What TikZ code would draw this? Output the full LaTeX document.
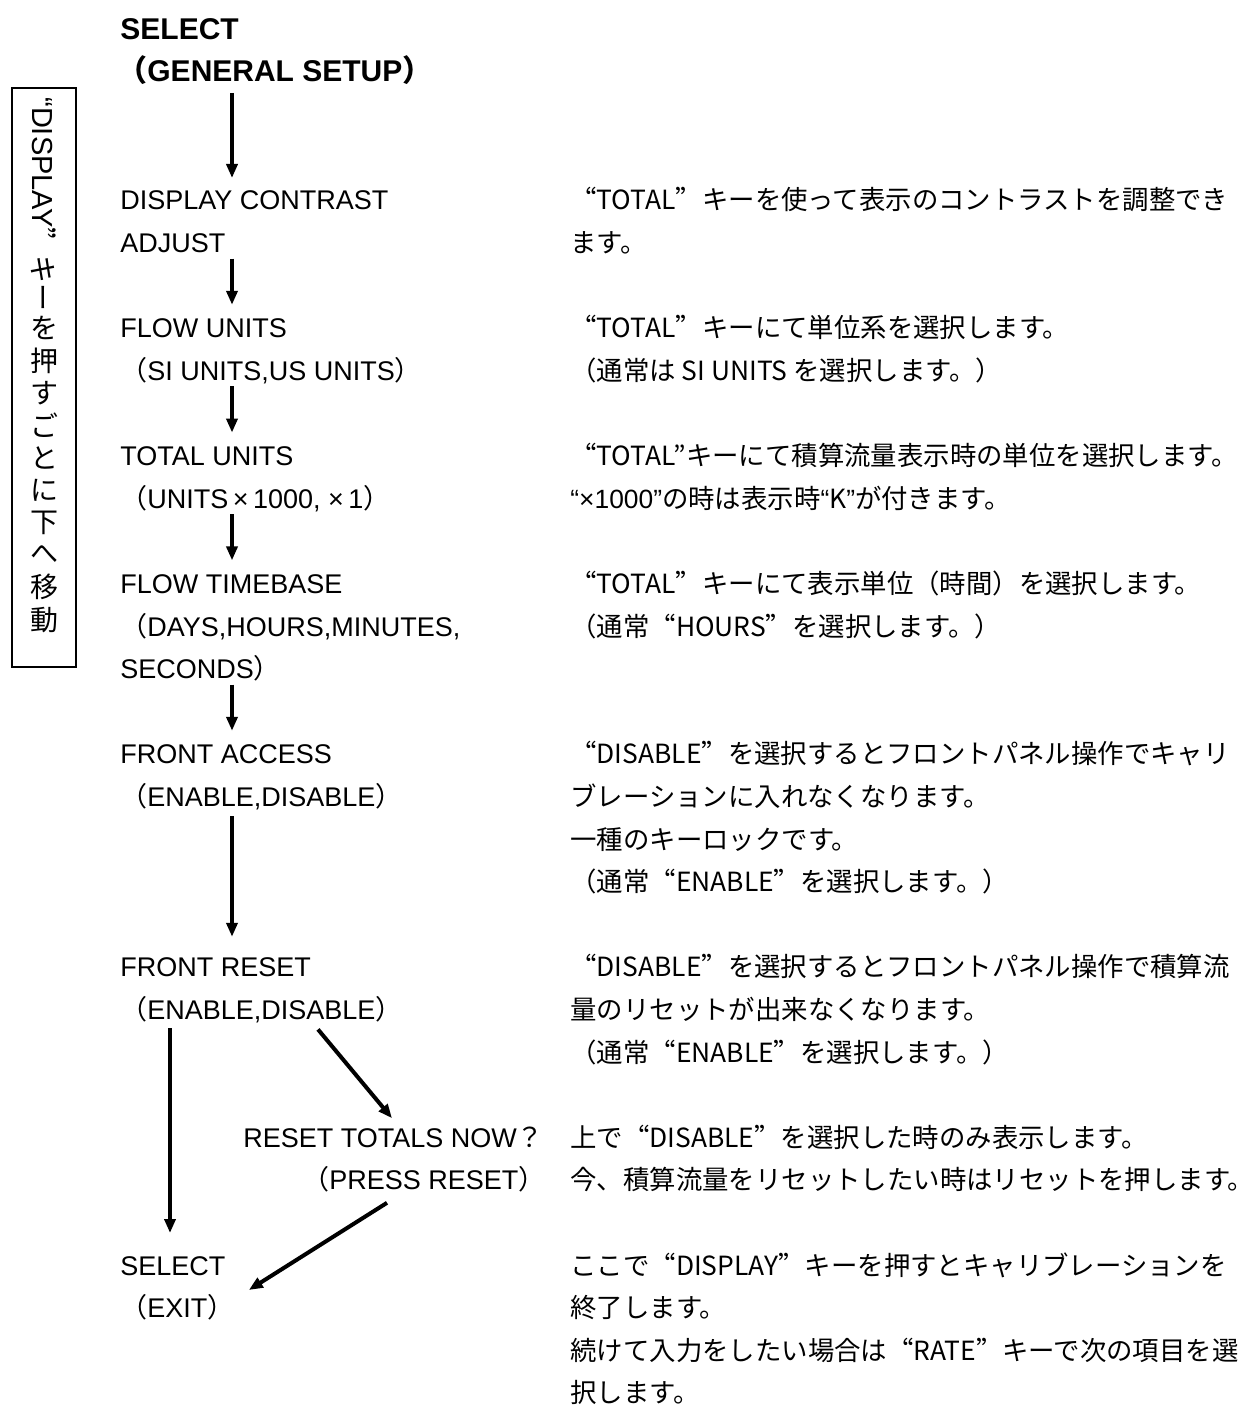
\documentclass[tikz,border=0pt]{standalone}
\usepackage{fontspec}
\setmainfont{Liberation Sans}
\newfontfamily\jp{Noto Sans CJK JP}
\newfontfamily\jpq[RawFeature=+fwid]{Noto Sans CJK JP}
\newcommand{\jq}[1]{{\jpq “}#1{\jpq ”}}
\usetikzlibrary{arrows.meta, positioning, calc}
\tikzset{
  item/.style={anchor=base west, inner sep=0pt, text height=10pt, text depth=3pt,
               font=\fontsize{13.5}{16}\selectfont},
  headline/.style={item, font=\fontsize{15}{18}\selectfont\bfseries},
  note/.style={anchor=base west, inner sep=0pt, font=\jp\fontsize{13.2}{16}\selectfont},
  keytxt/.style={inner sep=0pt, font=\jp\fontsize{14}{16}\selectfont},
  flow/.style={-{Triangle[length=7pt,width=5.5pt]}, line width=2pt},
}

\begin{document}
\begin{tikzpicture}[x=0.5pt, y=-0.5pt]
  \useasboundingbox (0,0) rectangle (1253,1406);
  \coordinate (spine) at (232,0);
  \coordinate (exitx) at (170,0);
  % heading
  \node[headline] (sel0) at (120,40) {SELECT};
  \node[headline] (gen) at (117,82) {{\jp（}GENERAL SETUP{\jp）}};
  % menu items, one line every 42.6
  \foreach \k/\nm/\txt in {0/dca/DISPLAY CONTRAST, 1/dcb/ADJUST,
      3/fua/FLOW UNITS, 4/fub/{{\jp（}SI UNITS,US UNITS{\jp）}},
      6/tua/TOTAL UNITS, 7/tub/{{\jp（}UNITS\,×\,1000, ×\,1{\jp）}},
      9/tba/FLOW TIMEBASE, 10/tbb/{{\jp（}DAYS,HOURS,MINUTES,},
      11/tbc/{SECONDS{\jp）}},
      13/faa/FRONT ACCESS, 14/fab/{{\jp（}ENABLE,DISABLE{\jp）}},
      18/fra/FRONT RESET, 19/frb/{{\jp（}ENABLE,DISABLE{\jp）}},
      25/exa/SELECT, 26/exb/{{\jp（}EXIT{\jp）}}} {
    \node[item] (\nm) at (120,{210+42.6*\k}) {\txt};
  }
  \node[item] (rta) at (243,{210+42.6*22}) {RESET TOTALS NOW{\jp？}};
  \node[item] (rtb) at (302,{210+42.6*23}) {{\jp（}PRESS RESET{\jp）}};
  % explanations
  \foreach \k/\txt in {0/{\jq{TOTAL}キーを使って表示のコントラストを調整でき}, 1/ます。,
      3/{\jq{TOTAL}キーにて単位系を選択します。}, 4/{（通常は SI UNITS を選択します。）},
      6/{{\jpq “}TOTAL”キーにて積算流量表示時の単位を選択します。},
      7/{{\rmfamily “×1000”}の時は表示時{\rmfamily “}K{\rmfamily ”}が付きます。},
      9/{\jq{TOTAL}キーにて表示単位（時間）を選択します。}, 10/{（通常\jq{HOURS}を選択します。）},
      13/{\jq{DISABLE}を選択するとフロントパネル操作でキャリ},
      14/{ブレーションに入れなくなります。}, 15/{一種のキーロックです。},
      16/{（通常\jq{ENABLE}を選択します。）},
      18/{\jq{DISABLE}を選択するとフロントパネル操作で積算流},
      19/{量のリセットが出来なくなります。}, 20/{（通常\jq{ENABLE}を選択します。）},
      22/{上で\jq{DISABLE}を選択した時のみ表示します。},
      23/{今、積算流量をリセットしたい時はリセットを押します。},
      25/{ここで\jq{DISPLAY}キーを押すとキャリブレーションを}, 26/{終了します。},
      27/{続けて入力をしたい場合は\jq{RATE}キーで次の項目を選}, 28/{択します。}} {
    \node[note] (r\k) at (570,{210+42.6*\k}) {\txt};
  }
  % arrows
  \draw[flow] ($(gen.base -| spine)+(0,11)$) -- ($(dca.base -| spine)+(0,-32)$);
  \foreach \a/\b in {dcb/fua, fub/tua, tub/tba, tbc/faa} {
    \draw[flow] ($(\a.base -| spine)+(0,6)$) -- ($(\b.base -| spine)+(0,-33)$);
  }
  \draw[flow] ($(fab.base -| spine)+(0,10)$) -- ($(fra.base -| spine)+(0,-40)$);
  \draw[flow] ($(frb.base -| exitx)+(0,9)$) -- ($(exa.base -| exitx)+(0,-42)$);
  \draw[flow] ($(frb.base west)+(198,10)$) -- ($(rta.base west)+(149,-29)$);
  \draw[flow] ($(rtb.base west)+(85,13)$) -- ($(exa.base east)+(23,15)$);
  % key box on the left
  \node[draw, line width=0.9pt, inner sep=0pt, minimum width=32pt,
        minimum height=289.5pt] (keybox) at (44,377.5) {};
  \node[keytxt, rotate=-90, anchor=west] (keyrot) at (44,97)
    {{\rmfamily\fontsize{14.5}{16}\selectfont “DISPLAY}{\jpq ”}キー};
  \foreach \c [count=\n from 0] in {を,押,す,ご,と,に,下,へ,移,動} {
    \node[keytxt] (kc\n) at (44,{328+32.4*\n}) {\c};
  }
\end{tikzpicture}
\end{document}
